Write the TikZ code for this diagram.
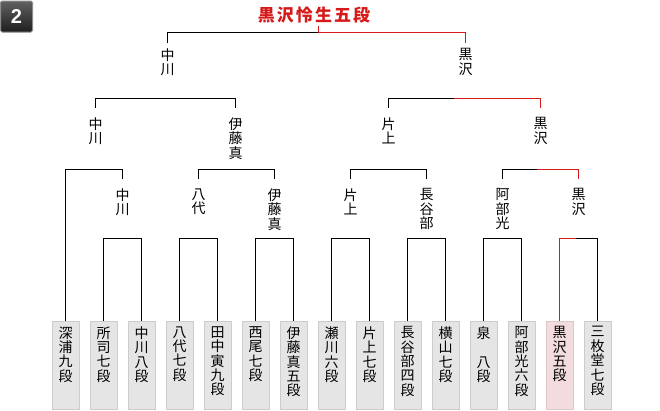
\documentclass[tikz,border=0pt]{standalone}
\usepackage{fontspec}
\setmainfont{Noto Sans CJK JP}
\newfontfamily\numfont{Liberation Sans}
\usepackage{tikz}
\usetikzlibrary{positioning}

\definecolor{winred}{HTML}{D61A1A}
\definecolor{boxgray}{HTML}{E5E5E5}
\definecolor{boxline}{HTML}{CCCCCC}
\definecolor{winbox}{HTML}{F3DCDD}
\definecolor{winboxline}{HTML}{DEC5C6}

\newcommand{\tate}[1]{\parbox[t][78pt][t]{16pt}{\centering #1}}

\tikzset{
  player/.style={draw=boxline, fill=boxgray, line width=1pt, minimum width=27pt, minimum height=88pt,
    inner xsep=0pt, inner ysep=5pt, font=\fontsize{14}{14.4}\selectfont},
  winner/.style={anchor=north, align=center, inner xsep=0pt, inner ysep=9pt, font=\fontsize{14}{14.4}\selectfont},
  win/.style={draw=winred},
  badge/.style={draw=black!45, top color=black!62, bottom color=black!88, rounded corners=1.5pt,
    minimum width=32pt, minimum height=31pt, text=white, font=\numfont\bfseries\fontsize{20}{20}\selectfont},
}

\begin{document}
\begin{tikzpicture}[x=1pt, y=-1pt, line width=1pt, node distance=10pt]
    \useasboundingbox (0,0) rectangle (660,410);

    \node[badge] (no) at (16.5,16.5) {2};

    % players
    \node[player, anchor=north] (p1) at (65.5,321) {\tate{深\\浦\\九\\段}};
    \node[player, right=of p1] (p2) {\tate{所\\司\\七\\段}};
    \node[player, right=of p2] (p3) {\tate{中\\川\\八\\段}};
    \node[player, right=of p3] (p4) {\tate{八\\代\\七\\段}};
    \node[player, right=of p4] (p5) {\tate{田\\中\\寅\\九\\段}};
    \node[player, right=of p5] (p6) {\tate{西\\尾\\七\\段}};
    \node[player, right=of p6] (p7) {\tate{伊\\藤\\真\\五\\段}};
    \node[player, right=of p7] (p8) {\tate{瀬\\川\\六\\段}};
    \node[player, right=of p8] (p9) {\tate{片\\上\\七\\段}};
    \node[player, right=of p9] (p10) {\tate{長\\谷\\部\\四\\段}};
    \node[player, right=of p10] (p11) {\tate{横\\山\\七\\段}};
    \node[player, right=of p11] (p12) {\tate{泉\\　\\八\\段}};
    \node[player, right=of p12] (p13) {\tate{阿\\部\\光\\六\\段}};
    \node[player, right=of p13, fill=winbox, draw=winboxline] (p14) {\tate{黒\\沢\\五\\段}};
    \node[player, right=of p14] (p15) {\tate{三\\枚\\堂\\七\\段}};

    % winners
    \node[winner] (w1) at (122.5,179) {中\\川};
    \node[winner] (w2) at (198.5,179) {八\\代};
    \node[winner] (w3) at (274.5,179) {伊\\藤\\真};
    \node[winner] (w4) at (350.5,179) {片\\上};
    \node[winner] (w5) at (426.5,179) {長\\谷\\部};
    \node[winner] (w6) at (502.5,179) {阿\\部\\光};
    \node[winner] (w7) at (578.5,179) {黒\\沢};

    \node[winner] (v1) at (95.5,108) {中\\川};
    \node[winner] (v2) at (235.5,108) {伊\\藤\\真};
    \node[winner] (v3) at (388.5,108) {片\\上};
    \node[winner] (v4) at (540.5,108) {黒\\沢};

    \node[winner, inner ysep=5pt] (f1) at (167.5,43) {中\\川};
    \node[winner, inner ysep=5pt] (f2) at (465.5,43) {黒\\沢};

    \node[anchor=south, inner ysep=2pt, text=winred,
      font=\fontsize{17}{17}\selectfont\bfseries\addfontfeature{LetterSpace=12}] (champ) at (314,26) {黒沢怜生五段};

    % bracket joints
    \coordinate (m1) at (122.5,238.5);
    \coordinate (m2) at (198.5,238.5);
    \coordinate (m3) at (274.5,238.5);
    \coordinate (m4) at (350.5,238.5);
    \coordinate (m5) at (426.5,238.5);
    \coordinate (m6) at (502.5,238.5);
    \coordinate (m7) at (576,238.5);
    \coordinate (n1) at (95.5,169.5);
    \coordinate (n2) at (235.5,169.5);
    \coordinate (n3) at (388.5,169.5);
    \coordinate (n4) at (537,169.5);
    \coordinate (k1) at (167.5,98.5);
    \coordinate (k2) at (454,98.5);
    \coordinate (top) at (318.5,32.5);

    \draw (p2.north) |- (m1) -| (p3.north);
    \draw (p4.north) |- (m2) -| (p5.north);
    \draw (p6.north) |- (m3) -| (p7.north);
    \draw (p8.north) |- (m4) -| (p9.north);
    \draw (p10.north) |- (m5) -| (p11.north);
    \draw (p12.north) |- (m6) -| (p13.north);
    \draw[win] (p14.north) |- (m7);
    \draw (m7) -| (p15.north);

    \draw (p1.north) |- (n1) -| (w1.north);
    \draw (w2.north) |- (n2) -| (w3.north);
    \draw (w4.north) |- (n3) -| (w5.north);
    \draw (w6.north) |- (n4);
    \draw[win] (n4) -| (w7.north);

    \draw (v1.north) |- (k1) -| (v2.north);
    \draw (v3.north) |- (k2);
    \draw[win] (k2) -| (v4.north);

    \draw (f1.north) |- (top);
    \draw[win] (top) -| (f2.north);
    \draw[win] (top) -- (top |- champ.south);
\end{tikzpicture}
\end{document}
